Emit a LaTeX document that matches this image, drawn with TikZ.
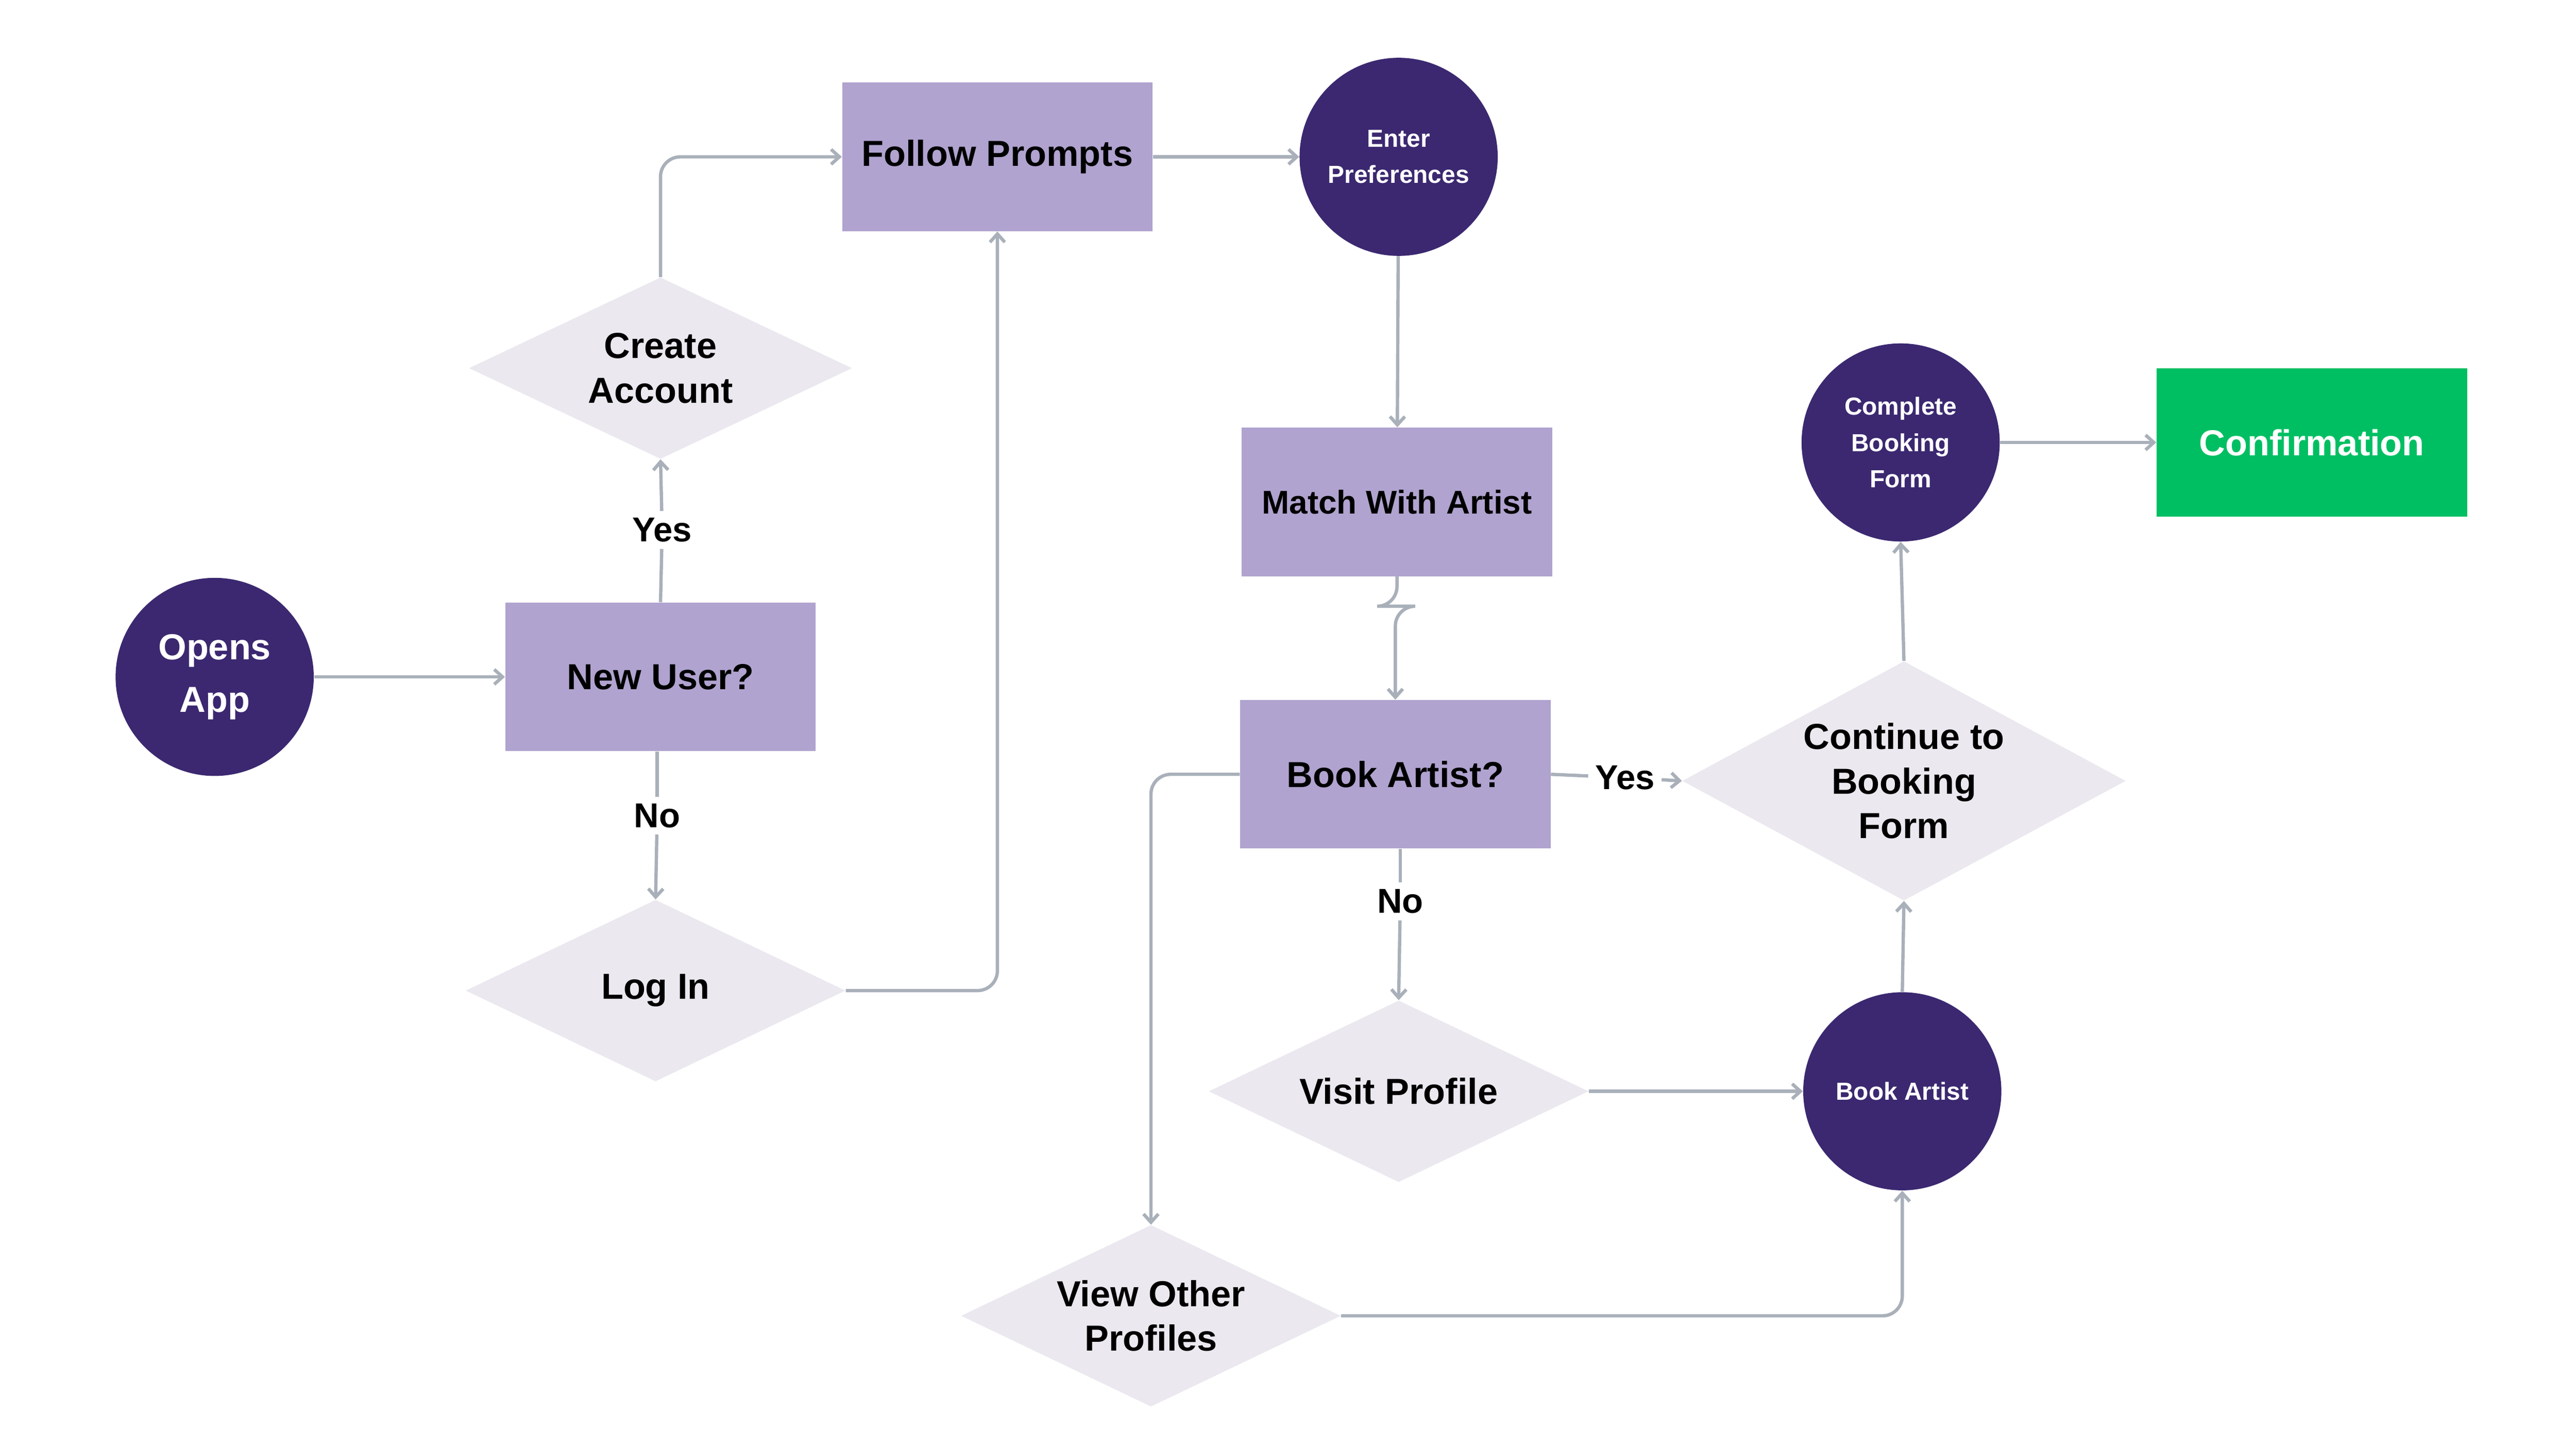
\documentclass[tikz,border=0pt]{standalone}
\usepackage{fontspec}
\setmainfont{Liberation Sans}
\usetikzlibrary{shapes.geometric,arrows.meta}
\definecolor{lav}{HTML}{B0A3CF}
\definecolor{dp}{HTML}{3B2870}
\definecolor{dia}{HTML}{EBE8EF}
\definecolor{grn}{HTML}{00BF63}
\definecolor{ln}{HTML}{A9B0BA}
\tikzset{
  rbox/.style={rectangle,fill=lav,minimum width=188bp,minimum height=90bp,font=\fontsize{22}{26}\selectfont\bfseries,align=center},
  circ/.style={circle,fill=dp,minimum size=120bp,inner sep=0pt,text=white,font=\fontsize{15}{22}\selectfont\bfseries,align=center},
  dmd/.style={diamond,fill=dia,aspect=2.1,inner sep=0pt,font=\fontsize{22}{27}\selectfont\bfseries,align=center},
  lbl/.style={fill=white,inner sep=4bp,font=\fontsize{21}{24}\selectfont\bfseries},
  conn/.style={draw=ln,line width=2bp,-{Straight Barb[length=5bp,width=9bp]},rounded corners=12bp},
  seg/.style={draw=ln,line width=2bp}
}
\begin{document}
\begin{tikzpicture}[x=1bp,y=-1bp]
\useasboundingbox (0,0) rectangle (1560,878);
\node[circ,font=\fontsize{22}{32}\selectfont\bfseries] (open) at (130,410) {Opens\\App};
\node[rbox] (new) at (400,410) {New User?};
\node[dmd,minimum width=232bp,minimum height=110bp] (create) at (400,223) {Create\\Account};
\node[dmd,minimum width=230bp,minimum height=110bp] (login) at (397,600) {Log In};
\node[rbox] (follow) at (604,95) {Follow Prompts};
\node[circ] (enter) at (847,95) {Enter\\Preferences};
\node[rbox,font=\fontsize{20}{24}\selectfont\bfseries] (match) at (846,304) {Match With Artist};
\node[rbox] (book) at (845,469) {Book Artist?};
\node[dmd,minimum width=230bp,minimum height=110bp] (visit) at (847,661) {Visit Profile};
\node[dmd,minimum width=230bp,minimum height=110bp] (view) at (697,797) {View Other\\Profiles};
\node[circ] (bart) at (1152,661) {Book Artist};
\node[dmd,minimum width=232bp,minimum height=145bp] (cont) at (1153,473) {Continue to\\Booking\\Form};
\node[circ] (comp) at (1151,268) {Complete\\Booking\\Form};
\node[rbox,fill=grn,text=white] (conf) at (1400,268) {Confirmation};
\node[lbl] (yes1) at (401,321) {Yes};
\node[lbl] (no1) at (398,494) {No};
\node[lbl] (yes2) at (984,471) {Yes};
\node[lbl] (no2) at (848,546) {No};
\draw[conn] (open) -- (new);
\draw[seg] (new.north) -- (yes1);
\draw[conn] (yes1) -- (create.south);
\draw[conn] (create.north) |- (follow.west);
\draw[seg] (new.south -| no1) -- (no1);
\draw[conn] (no1) -- (login.north);
\draw[conn] (login.east) -| (follow.south);
\draw[conn] (follow) -- (enter);
\draw[conn] (enter) -- (match);
\draw[conn] (match.south) -- ++(0,18) -| (book.north);
\draw[seg] (book.east) -- (yes2);
\draw[conn] (yes2) -- (cont.west);
\draw[seg] (book.south -| no2) -- (no2);
\draw[conn] (no2) -- (visit.north);
\draw[conn] (book.west) -| (view.north);
\draw[conn] (visit.east) -- (bart.west);
\draw[conn] (view.east) -| (bart.south);
\draw[conn] (bart.north) -- (cont.south);
\draw[conn] (cont.north) -- (comp.south);
\draw[conn] (comp.east) -- (conf.west);
\end{tikzpicture}
\end{document}
